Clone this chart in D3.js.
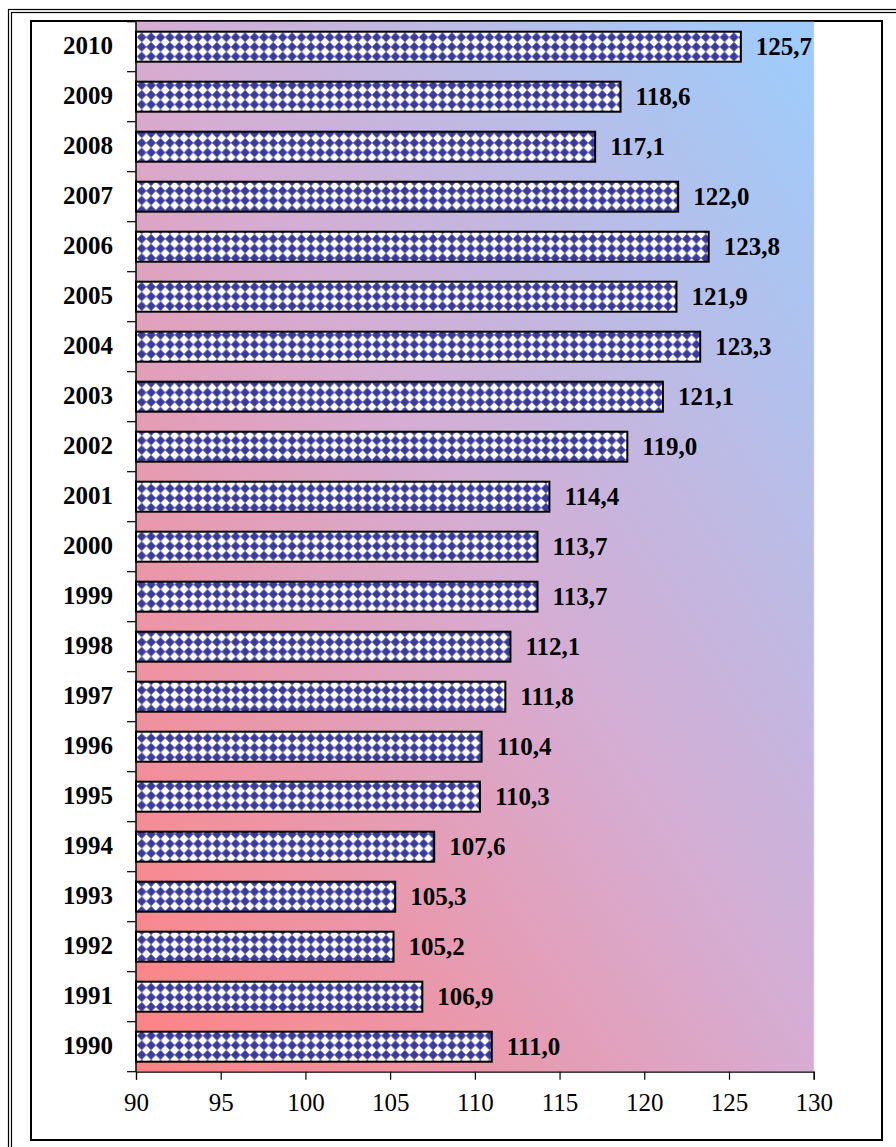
<!DOCTYPE html>
<html>
<head>
<meta charset="utf-8">
<script src="https://cdn.jsdelivr.net/npm/d3@7/dist/d3.min.js"></script>
<style>
  html, body { margin: 0; padding: 0; background: #ffffff; }
  svg { display: block; }
</style>
</head>
<body>
<script>
const years = ["1990","1991","1992","1993","1994","1995","1996","1997","1998","1999","2000",
               "2001","2002","2003","2004","2005","2006","2007","2008","2009","2010"];
const values = [111.0, 106.9, 105.2, 105.3, 107.6, 110.3, 110.4, 111.8, 112.1, 113.7, 113.7,
                114.4, 119.0, 121.1, 123.3, 121.9, 123.8, 122.0, 117.1, 118.6, 125.7];
const xTicks = [90, 95, 100, 105, 110, 115, 120, 125, 130];
const xDomain = [90, 130];

const W = 896, H = 1147;
const plot = { left: 136, top: 21.7, right: 813.7, bottom: 1071.7 };

const svg = d3.select("body").append("svg").attr("width", W).attr("height", H);
const defs = svg.append("defs");

// background gradient
const grad = defs.append("linearGradient").attr("id", "bg")
  .attr("x1", 0).attr("y1", 1).attr("x2", 1).attr("y2", 0);
grad.append("stop").attr("offset", 0).attr("stop-color", "#ff8282");
grad.append("stop").attr("offset", 0.5).attr("stop-color", "#d6acd2");
grad.append("stop").attr("offset", 1).attr("stop-color", "#9ccdfc");

// diamond pattern
const pw = 9.4, ph = 9.6;
const pat = defs.append("pattern").attr("id", "diam")
  .attr("patternUnits", "userSpaceOnUse")
  .attr("x", plot.left + 1).attr("y", plot.top + 10.8)
  .attr("width", pw).attr("height", ph);
pat.append("rect").attr("width", pw).attr("height", ph).attr("fill", "#ffffff");
pat.append("path").attr("d", `M${pw/2},0.2 L${pw-0.2},${ph/2} L${pw/2},${ph-0.2} L0.2,${ph/2} Z`)
  .attr("fill", "#3a3a9c").attr("stroke", "#3a3a9c").attr("stroke-width", 0.6)
  .attr("stroke-linejoin", "round");

// outer double border
svg.append("rect").attr("x", 8.5).attr("y", 9.5).attr("width", W + 20).attr("height", H + 20)
  .attr("fill", "none").attr("stroke", "#000").attr("stroke-width", 1.2);
svg.append("rect").attr("x", 11.5).attr("y", 12.5).attr("width", W + 20).attr("height", H + 20)
  .attr("fill", "none").attr("stroke", "#000").attr("stroke-width", 1.2);

// chart area
svg.append("rect").attr("x", 31).attr("y", 21).attr("width", 851).attr("height", 1119)
  .attr("fill", "#ffffff").attr("stroke", "#000").attr("stroke-width", 2);

// plot area background
svg.append("rect").attr("x", plot.left).attr("y", plot.top)
  .attr("width", plot.right - plot.left).attr("height", plot.bottom - plot.top)
  .attr("fill", "url(#bg)");
svg.append("line").attr("x1", plot.right).attr("x2", plot.right)
  .attr("y1", plot.top).attr("y2", plot.bottom)
  .attr("stroke", "#c8c8c8").attr("stroke-width", 1);

const x = d3.scaleLinear().domain(xDomain).range([plot.left, plot.right]);
const y = d3.scaleBand().domain(years.slice().reverse())
  .range([plot.top, plot.bottom]).paddingInner(0.4).paddingOuter(0.2);

const data = years.map((yr, i) => ({ year: yr, value: values[i] }));

// bars
svg.append("g").selectAll("rect").data(data).join("rect")
  .attr("x", x(xDomain[0]))
  .attr("y", d => y(d.year))
  .attr("width", d => x(d.value) - x(xDomain[0]))
  .attr("height", y.bandwidth())
  .attr("fill", "url(#diam)")
  .attr("stroke", "#000").attr("stroke-width", 2);

// value labels
svg.append("g").selectAll("text").data(data).join("text")
  .attr("x", d => x(d.value) + 15)
  .attr("y", d => y(d.year) + y.bandwidth() / 2)
  .attr("dy", "0.35em")
  .attr("font-family", "'Liberation Serif', 'Times New Roman', serif")
  .attr("font-weight", "bold").attr("font-size", 25)
  .attr("fill", "#000")
  .text(d => d.value.toFixed(1).replace(".", ","));

// y axis (category) - ticks between categories
const yAxisG = svg.append("g");
yAxisG.append("line").attr("x1", plot.left).attr("x2", plot.left)
  .attr("y1", plot.top).attr("y2", plot.bottom).attr("stroke", "#000").attr("stroke-width", 1.5);
const step = y.step();
const boundaries = d3.range(years.length + 1).map(k => plot.top + k * step);
yAxisG.selectAll("line.tk").data(boundaries).join("line").attr("class", "tk")
  .attr("x1", plot.left - 9).attr("x2", plot.left)
  .attr("y1", d => d).attr("y2", d => d)
  .attr("stroke", "#000").attr("stroke-width", 1.2);
yAxisG.selectAll("text").data(years).join("text")
  .attr("x", 113)
  .attr("y", d => y(d) + y.bandwidth() / 2)
  .attr("dy", "0.3em")
  .attr("text-anchor", "end")
  .attr("font-family", "'Liberation Serif', 'Times New Roman', serif")
  .attr("font-weight", "bold").attr("font-size", 25)
  .text(d => d);

// x axis
const xAxis = d3.axisBottom(x).tickValues(xTicks).tickSize(8).tickPadding(14)
  .tickFormat(d3.format("d"));
const xg = svg.append("g").attr("transform", `translate(0,${plot.bottom})`).call(xAxis);
xg.select(".domain").attr("stroke", "#000").attr("stroke-width", 1.2);
xg.selectAll(".tick line").attr("stroke", "#000").attr("stroke-width", 1.2);
xg.selectAll(".tick text")
  .attr("font-family", "'Liberation Serif', 'Times New Roman', serif")
  .attr("font-size", 25).attr("fill", "#000");
</script>
</body>
</html>
